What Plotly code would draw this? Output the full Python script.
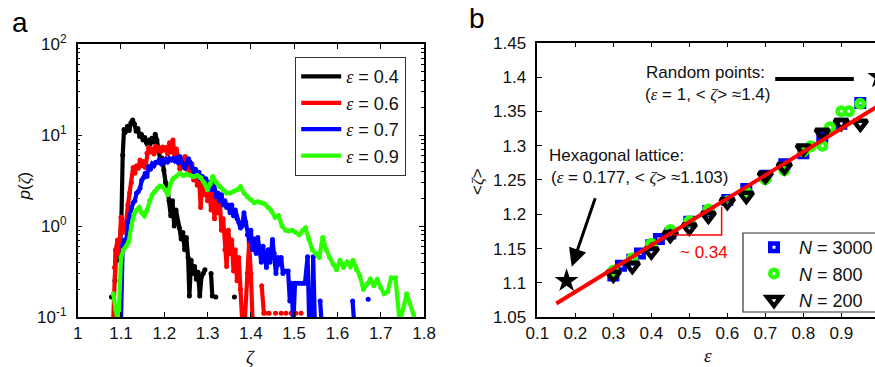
import plotly.graph_objects as go

W, H = 875, 367

# ---------------- panel a: distributions p(zeta) ----------------
zeta_e04 = [1.078, 1.082, 1.086, 1.088, 1.091, 1.094, 1.098, 1.101, 1.104, 1.107,
            1.111, 1.115, 1.119, 1.123, 1.127, 1.131, 1.135, 1.139, 1.143, 1.147,
            1.151, 1.155, 1.159, 1.163, 1.167, 1.171, 1.175, 1.179, 1.183, 1.187,
            1.191, 1.195, 1.199, 1.203, 1.207, 1.211, 1.215, 1.219, 1.223, 1.227,
            1.231, 1.235, 1.239, 1.243, 1.247, 1.251, 1.255, 1.258, 1.262, 1.266,
            1.270, 1.274, 1.278, 1.282, 1.286, 1.290, 1.294, 1.298, 1.308, 1.311,
            1.315, 1.319, 1.330, 1.362]
p_e04 = [0.166, None, 0.25, 0.55, 0.42, 0.62, 0.60, 1.2, 6.0, 11.5,
         11.0, 12.5, 11.2, 13.6, 14.6, 13.2, 11.0, 11.8, 9.6, 10.2,
         8.8, 9.4, 8.2, 8.6, 7.9, 9.2, 8.4, 10.2, 8.8, 7.2,
         5.2, 5.6, 4.1, 3.0, 2.7, 1.9, 1.3, 1.9, 1.0, 1.5,
         1.1, 0.95, 0.72, 0.85, 0.55, 0.75, 0.45, 0.17, 0.42, 0.30,
         0.36, 0.26, 0.31, 0.17, 0.28, 0.30, 0.33, None, 0.30, 0.17,
         None, 0.166, None, 0.166]

zeta_e06 = [1.082, 1.085, 1.088, 1.092, 1.096, 1.100, 1.104, 1.108, 1.112, 1.116,
            1.120, 1.124, 1.128, 1.132, 1.136, 1.140, 1.144, 1.148, 1.152, 1.156,
            1.160, 1.164, 1.168, 1.172, 1.176, 1.180, 1.184, 1.188, 1.192, 1.196,
            1.200, 1.204, 1.208, 1.212, 1.216, 1.220, 1.224, 1.228, 1.232, 1.236,
            1.240, 1.244, 1.248, 1.252, 1.256, 1.260, 1.264, 1.268, 1.272, 1.276,
            1.280, 1.284, 1.288, 1.292, 1.296, 1.300, 1.304, 1.308, 1.312, 1.316,
            1.320, 1.324, 1.328, 1.332, 1.336, 1.340, 1.344, 1.348, 1.352, 1.356,
            1.360, 1.364, 1.368, 1.372, 1.376, 1.380, 1.386, 1.392, 1.396, 1.400,
            1.404, 1.410, 1.416, 1.425, 1.430, 1.442, 1.450, 1.457, 1.463, 1.470,
            1.475, 1.481, 1.487, 1.493, 1.498, 1.504, 1.510, 1.516]
p_e06 = [0.09, 0.35, 0.55, 0.7, 0.5, 1.25, 0.85, 0.95, 1.1, 1.7,
         2.3, 3.0, 4.4, 3.8, 4.6, 4.3, 5.3, 4.6, 5.1, 4.4,
         6.3, 7.3, 6.5, 7.0, 6.2, 7.5, 6.8, 7.2, 6.6, 7.4,
         6.9, 7.3, 6.2, 8.2, 6.5, 8.8, 6.0, 7.0, 5.5, 4.2,
         5.5, 4.5, 5.8, 4.2, 5.2, 3.8, 4.8, 3.2, 4.0, 2.8,
         3.6, 1.6, 3.2, 2.2, 2.9, 1.9, 2.6, 1.5, 2.4, 1.2,
         2.2, 1.4, 2.0, 0.9, 1.2, 0.55, 0.36, 0.9, 0.5, 0.7,
         0.32, 0.55, 0.25, 0.45, 0.2, 0.09, 0.09, 0.3, 0.65, 0.3,
         0.09, 0.09, None, 0.22, 0.11, 0.11, None, 0.11, None, 0.11,
         None, 0.11, None, 0.11, None, 0.11, None, 0.11]

zeta_e07 = [1.096, 1.100, 1.104, 1.108, 1.112, 1.116, 1.120, 1.124, 1.128, 1.132,
            1.136, 1.140, 1.144, 1.148, 1.152, 1.156, 1.160, 1.164, 1.168, 1.172,
            1.176, 1.180, 1.184, 1.188, 1.192, 1.196, 1.200, 1.204, 1.208, 1.212,
            1.216, 1.220, 1.224, 1.228, 1.232, 1.236, 1.240, 1.244, 1.248, 1.252,
            1.256, 1.260, 1.264, 1.268, 1.272, 1.276, 1.280, 1.284, 1.288, 1.292,
            1.296, 1.300, 1.304, 1.308, 1.312, 1.316, 1.320, 1.324, 1.328, 1.332,
            1.336, 1.340, 1.344, 1.348, 1.352, 1.356, 1.360, 1.364, 1.368, 1.372,
            1.376, 1.380, 1.384, 1.388, 1.392, 1.396, 1.400, 1.404, 1.408, 1.412,
            1.416, 1.420, 1.424, 1.428, 1.432, 1.436, 1.440, 1.444, 1.450, 1.454,
            1.458, 1.462, 1.466, 1.470, 1.474, 1.480, 1.486, 1.490, 1.494, 1.498,
            1.502, 1.508, 1.514, 1.520, 1.525, 1.531, 1.535, 1.541, 1.544, 1.548,
            1.554, 1.560, 1.564, 1.600, 1.635, 1.639, 1.655, 1.671]
p_e07 = [0.08, 0.09, 0.62, 0.7, 0.65, 1.1, 1.3, 1.6, 1.8, 1.9,
         2.3, 2.4, 2.6, 3.2, 3.4, 3.8, 3.5, 4.5, 4.2, 4.8,
         4.6, 5.0, 5.0, 5.3, 4.9, 5.2, 5.0, 5.4, 5.1, 5.5,
         5.3, 5.5, 5.2, 5.6, 5.0, 5.8, 5.0, 4.6, 4.3, 4.9,
         5.5, 5.0, 4.4, 4.0, 4.2, 3.6, 3.9, 3.3, 3.5, 3.0,
         3.3, 2.9, 3.0, 2.5, 3.4, 2.5, 2.1, 2.3, 1.9, 2.2,
         1.7, 1.9, 1.6, 1.7, 1.4, 1.7, 1.3, 1.5, 1.2, 1.1,
         0.95, 1.0, 1.4, 1.1, 0.8, 0.7, 0.9, 0.55, 0.72, 0.5,
         0.75, 0.55, 0.4, 0.6, 0.45, 0.35, 0.55, 0.4, 0.71, 0.5,
         0.3, 0.45, 0.38, 0.45, 0.3, 0.32, 0.32, 0.15, 0.235, 0.08,
         0.235, 0.235, 0.235, 0.235, 0.235, 0.46, 0.08, 0.08, 0.46, 0.08,
         None, 0.15, 0.08, None, 0.15, 0.08, None, 0.157]

zeta_e09 = [1.082, 1.088, 1.094, 1.100, 1.106, 1.112, 1.118, 1.124, 1.130, 1.136,
            1.142, 1.148, 1.154, 1.160, 1.166, 1.172, 1.178, 1.184, 1.190, 1.196,
            1.202, 1.208, 1.214, 1.220, 1.228, 1.236, 1.244, 1.252, 1.260, 1.268,
            1.276, 1.284, 1.292, 1.300, 1.306, 1.312, 1.320, 1.328, 1.336, 1.344,
            1.352, 1.360, 1.368, 1.376, 1.384, 1.392, 1.400, 1.408, 1.416, 1.424,
            1.432, 1.440, 1.448, 1.456, 1.464, 1.472, 1.480, 1.488, 1.496, 1.504,
            1.512, 1.520, 1.526, 1.534, 1.542, 1.550, 1.558, 1.566, 1.574, 1.582,
            1.590, 1.598, 1.606, 1.614, 1.622, 1.630, 1.636, 1.644, 1.652, 1.660,
            1.668, 1.676, 1.684, 1.692, 1.700, 1.708, 1.716, 1.724, 1.734, 1.744,
            1.760, 1.775, 1.784]
p_e09 = [0.18, 0.12, 0.08, 0.45, 0.55, 0.6, 0.68, 1.0, 1.35, 1.5,
         1.6, 1.4, 1.3, 1.5, 1.9, 2.2, 2.4, 2.6, 2.75, 2.7,
         2.5, 2.2, 2.9, 3.3, 3.5, 3.8, 3.6, 3.7, 3.6, 3.5,
         3.6, 3.4, 3.0, 2.5, 2.9, 3.5, 3.0, 2.7, 2.5, 2.3,
         2.3, 2.4, 2.5, 2.7, 2.3, 2.1, 1.95, 1.8, 1.85, 1.8,
         1.75, 1.6, 1.45, 1.25, 1.3, 1.0, 0.9, 0.88, 0.9, 0.85,
         0.8, 0.9, 0.95, 0.72, 0.55, 0.5, 0.45, 0.75, 0.55, 0.45,
         0.38, 0.33, 0.42, 0.35, 0.40, 0.36, 0.42, 0.33, 0.28, 0.2,
         0.23, 0.26, 0.22, 0.26, 0.21, 0.18, 0.19, 0.27, 0.27, 0.085,
         0.18, 0.11, 0.08]

zeta_series = [zeta_e04, zeta_e06, zeta_e07, zeta_e09]
p_series = [p_e04, p_e06, p_e07, p_e09]
eps_labels = ["0.4", "0.6", "0.7", "0.9"]
colors_a = ["#000000", "#ff0000", "#0000ff", "#2cff00"]

x_ticks_a = [1, 1.1, 1.2, 1.3, 1.4, 1.5, 1.6, 1.7, 1.8]
x_ticktext_a = ["1", "1.1", "1.2", "1.3", "1.4", "1.5", "1.6", "1.7", "1.8"]
y_ticks_a = [0.1, 1, 10, 100]
y_ticktext_a = ["10<sup>-1</sup>", "10<sup>0</sup>", "10<sup>1</sup>", "10<sup>2</sup>"]
y_minor_a = [m * d for d in (0.1, 1, 10) for m in range(2, 10)]

# ---------------- panel b: <zeta> versus epsilon ----------------
eps_n3000 = [0.30, 0.32, 0.35, 0.37, 0.40, 0.42, 0.45, 0.50, 0.55, 0.60, 0.65, 0.70,
             0.75, 0.80, 0.85, 0.90, 0.95]
zeta_n3000 = [1.111, 1.125, 1.134, 1.143, 1.155, 1.164, 1.172, 1.189, 1.205, 1.221,
              1.237, 1.256, 1.273, 1.289, 1.313, 1.332, 1.362]
eps_n800 = [0.30, 0.35, 0.40, 0.45, 0.50, 0.55, 0.60, 0.65, 0.70, 0.75, 0.80, 0.82,
            0.85, 0.87, 0.90, 0.92, 0.95]
zeta_n800 = [1.118, 1.136, 1.157, 1.177, 1.190, 1.207, 1.219, 1.232, 1.251, 1.264,
             1.292, 1.299, 1.300, 1.327, 1.350, 1.350, 1.361]
eps_n200 = [0.30, 0.35, 0.40, 0.45, 0.50, 0.55, 0.60, 0.65, 0.70, 0.75, 0.80, 0.85,
            0.90, 0.95]
zeta_n200 = [1.112, 1.125, 1.146, 1.170, 1.181, 1.198, 1.218, 1.227, 1.256, 1.269,
             1.296, 1.319, 1.333, 1.332]

fit_slope = 0.34
fit_intercept = 1.019
fit_eps = [0.15, 1.0]

ref_eps = [0.177, 1.0]        # hexagonal lattice, random points
ref_zeta = [1.103, 1.4]

x_ticks_b = [0.1, 0.2, 0.3, 0.4, 0.5, 0.6, 0.7, 0.8, 0.9]
x_ticktext_b = ["0.1", "0.2", "0.3", "0.4", "0.5", "0.6", "0.7", "0.8", "0.9"]
y_ticks_b = [1.05, 1.1, 1.15, 1.2, 1.25, 1.3, 1.35, 1.4, 1.45]
y_ticktext_b = ["1.05", "1.1", "1.15", "1.2", "1.25", "1.3", "1.35", "1.4", "1.45"]

SANS = "Liberation Sans, Arial, sans-serif"
SERIF = "Liberation Serif"


def greek(ch):
    return "<span style='font-family:%s'><i>%s</i></span>" % (SERIF, ch)


def px(x):
    return x / W


def py(y):
    return 1 - y / H


fig = go.Figure()

# curves of panel a; the isolated single-count bins show up as dots
for zeta, p, lab, col in zip(zeta_series, p_series, eps_labels, colors_a):
    fig.add_trace(go.Scatter(
        x=zeta, y=p, mode="lines", line=dict(color=col, width=4.2),
        name="%s = %s" % (greek("ε"), lab),
        xaxis="x", yaxis="y", legend="legend",
    ))
    fig.add_trace(go.Scatter(
        x=zeta, y=p, mode="markers", marker=dict(size=5, color=col),
        showlegend=False, hoverinfo="skip", xaxis="x", yaxis="y",
    ))

# panel b: thick open markers leave a small white centre
fig.add_trace(go.Scatter(
    x=eps_n3000, y=zeta_n3000, mode="markers", name="<i>N</i> = 3000",
    marker=dict(symbol="square-open", size=7.5, color="#0000ff", line=dict(width=4.5)),
    xaxis="x2", yaxis="y2", legend="legend2",
))
fig.add_trace(go.Scatter(
    x=eps_n800, y=zeta_n800, mode="markers", name="<i>N</i> = 800",
    marker=dict(symbol="circle-open", size=7.5, color="#2cff00", line=dict(width=4.5)),
    xaxis="x2", yaxis="y2", legend="legend2",
))
fig.add_trace(go.Scatter(
    x=eps_n200, y=zeta_n200, mode="markers", name="<i>N</i> = 200",
    marker=dict(symbol="triangle-down-open", size=12, color="#000000", line=dict(width=4.4)),
    xaxis="x2", yaxis="y2", legend="legend2",
))
fig.add_trace(go.Scatter(
    x=fit_eps, y=[fit_intercept + fit_slope * e for e in fit_eps], mode="lines",
    line=dict(color="#ff0000", width=4), showlegend=False,
    xaxis="x2", yaxis="y2",
))
fig.add_trace(go.Scatter(
    x=ref_eps, y=ref_zeta, mode="markers",
    marker=dict(symbol="star", size=18, color="black"), showlegend=False,
    xaxis="x2", yaxis="y2", cliponaxis=True,
))

axis_common = dict(
    showline=True, linecolor="black", linewidth=1.5, ticks="inside", ticklen=5,
    tickcolor="black", tickwidth=1, showgrid=False, zeroline=False,
    tickfont=dict(family=SANS, size=17, color="#111"),
)

fig.update_layout(
    width=W, height=H,
    margin=dict(l=0, r=0, t=0, b=0, autoexpand=False),
    paper_bgcolor="white", plot_bgcolor="white",
    font=dict(family=SANS, size=17, color="#111"),
    xaxis=dict(axis_common, domain=[0.0888, 0.4846], range=[1, 1.8], anchor="y",
               tickmode="array", tickvals=x_ticks_a, ticktext=x_ticktext_a, mirror="allticks"),
    yaxis=dict(axis_common, domain=[0.1362, 0.8801], type="log", range=[-1, 2], anchor="x",
               tickmode="array", tickvals=y_ticks_a, ticktext=y_ticktext_a, mirror="allticks",
               ticklabelstandoff=6,
               minor=dict(ticks="inside", ticklen=3, tickcolor="black", tickmode="array",
                          tickvals=y_minor_a, showgrid=False)),
    xaxis2=dict(axis_common, domain=[0.6141, 1.0], range=[0.1, 0.9887], anchor="y2",
                tickmode="array", tickvals=x_ticks_b, ticktext=x_ticktext_b, mirror="allticks"),
    yaxis2=dict(axis_common, domain=[0.1354, 0.8837], range=[1.05, 1.45], anchor="x2",
                tickmode="array", tickvals=y_ticks_b, ticktext=y_ticktext_b, mirror=False,
                ticklabelstandoff=6),
    legend=dict(x=px(295), y=py(57), xanchor="left", yanchor="top",
                bgcolor="white", bordercolor="#333", borderwidth=1.2,
                font=dict(family=SANS, size=18, color="#111"), itemwidth=40),
    legend2=dict(x=px(749), y=py(229), xanchor="left", yanchor="top",
                 bgcolor="rgba(0,0,0,0)", borderwidth=0,
                 font=dict(family=SANS, size=18, color="#111"), itemwidth=40),
)

# frame of the panel-b legend, running off the right edge
fig.add_shape(type="rect", xref="paper", yref="paper",
              x0=px(743), x1=px(885), y0=py(312), y1=py(233),
              line=dict(color="#333", width=1.2), fillcolor="white", layer="above")

# decorations of panel b
fig.add_shape(type="line", xref="x2", yref="y2", x0=0.726, x1=0.933, y0=1.397, y1=1.397,
              line=dict(color="black", width=4))
fig.add_shape(type="path", xref="x2", yref="y2",
              path="M 0.458 1.170 L 0.585 1.170 L 0.585 1.211",
              line=dict(color="#ff0000", width=1.5))
fig.add_annotation(x=0.1905, y=1.1238, ax=0.2537, ay=1.2257, xref="x2", yref="y2",
                   axref="x2", ayref="y2", text="", showarrow=True, arrowhead=2,
                   arrowsize=1.2, arrowwidth=3, arrowcolor="black", standoff=0)

texts = [
    ("a", 19.5, 22, 28, "#000", 0),
    ("b", 477, 19, 28, "#000", 0),
    ("<i>p</i>(%s)" % greek("ζ"), 23.5, 186, 17, "#111", -90),
    (greek("ζ"), 250, 357, 19, "#111", 0),
    ("&lt;%s&gt;" % greek("ζ"), 477, 182, 17, "#111", -90),
    (greek("ε"), 708, 355, 19, "#111", 0),
    ("Random points:", 705, 72, 17, "#111", 0),
    ("(%s = 1, &lt; %s&gt; ≈1.4)" % (greek("ε"), greek("ζ")), 707, 94, 17, "#111", 0),
    ("Hexagonal lattice:", 616, 155, 17, "#111", 0),
    ("(%s = 0.177, &lt; %s&gt; ≈1.103)" % (greek("ε"), greek("ζ")), 639, 177, 17, "#111", 0),
    ("~ 0.34", 704, 252, 17, "#ff0000", 0),
]
for txt, x, y, size, col, ang in texts:
    fig.add_annotation(x=px(x), y=py(y), xref="paper", yref="paper", text=txt,
                       showarrow=False, textangle=ang, xanchor="center", yanchor="middle",
                       font=dict(family=SANS, size=size, color=col))

fig.write_html("out.html")
